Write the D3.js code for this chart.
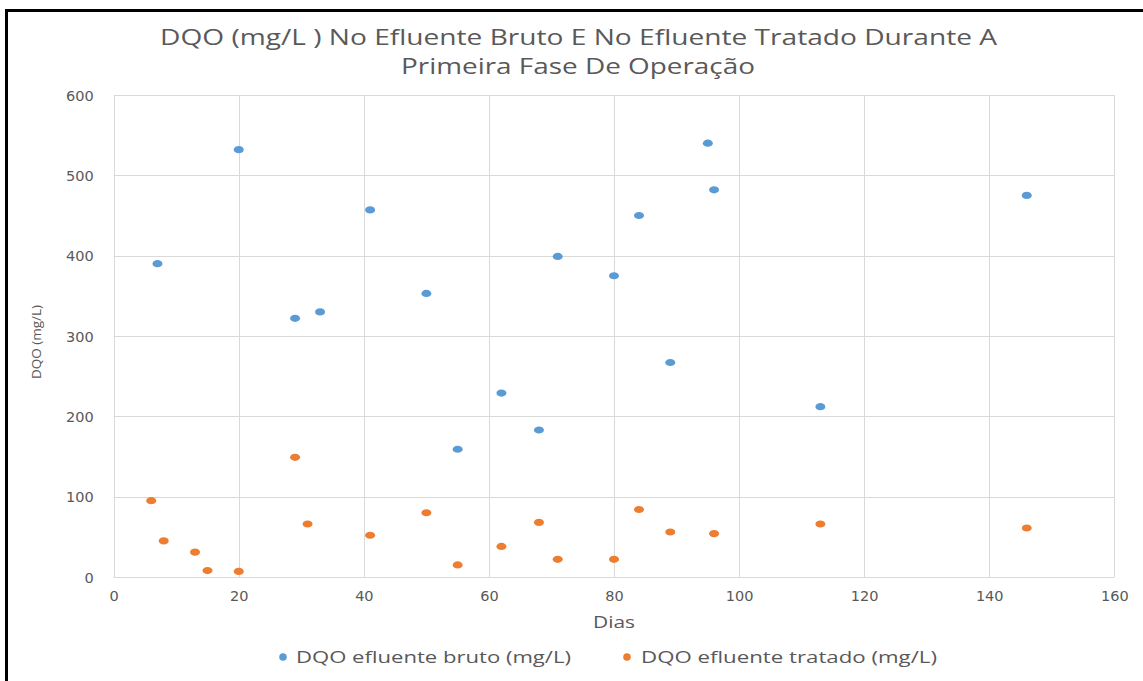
<!DOCTYPE html>
<html>
<head>
<meta charset="utf-8">
<script src="https://cdn.jsdelivr.net/npm/d3@7"></script>
<style>
  html, body { margin: 0; padding: 0; background: #fff; }
  svg { display: block; }
</style>
</head>
<body>
<svg id="chart" width="1143" height="681"></svg>
<script>
// Dias de operação e DQO medida (mg/L)
const diasBruto = [7, 20, 29, 33, 41, 50, 55, 62, 68, 71, 80, 84, 89, 95, 96, 113, 146];
const dqoBruto  = [390, 532, 322, 330, 457, 353, 159, 229, 183, 399, 375, 450, 267, 540, 482, 212, 475];

const diasTratado = [6, 8, 13, 15, 20, 29, 31, 41, 50, 55, 62, 68, 71, 80, 84, 89, 96, 113, 146];
const dqoTratado  = [95, 45, 31, 8, 7, 149, 66, 52, 80, 15, 38, 68, 22, 22, 84, 56, 54, 66, 61];

const xTicks = [0, 20, 40, 60, 80, 100, 120, 140, 160];
const yTicks = [0, 100, 200, 300, 400, 500, 600];

const titleLines = ["DQO (mg/L ) No Efluente Bruto E No Efluente Tratado Durante A", "Primeira Fase De Operação"];
const seriesNames = ["DQO efluente bruto (mg/L)", "DQO efluente tratado (mg/L)"];
const colors = ["#5b9bd5", "#ed7d31"];

const svg = d3.select("#chart");
const textColor = "#595959";
const font = "'Open Sans', 'Noto Sans', sans-serif";

// frame
svg.append("rect").attr("x", 5).attr("y", 9).attr("width", 1143).attr("height", 3).attr("fill", "#000");
svg.append("rect").attr("x", 5).attr("y", 9).attr("width", 3).attr("height", 681).attr("fill", "#000");

const x = d3.scaleLinear().domain([0, 160]).range([113.7, 1114.3]);
const y = d3.scaleLinear().domain([0, 600]).range([577, 95]);

// grid
const grid = svg.append("g");
grid.selectAll("line.h").data(yTicks).join("line")
  .attr("x1", x(0)).attr("x2", x(160))
  .attr("y1", d => Math.round(y(d)) + 0.5).attr("y2", d => Math.round(y(d)) + 0.5)
  .attr("stroke", "#d9d9d9").attr("stroke-width", 1);
grid.selectAll("line.v").data(xTicks).join("line")
  .attr("y1", y(0)).attr("y2", y(600))
  .attr("x1", d => Math.round(x(d)) + 0.5).attr("x2", d => Math.round(x(d)) + 0.5)
  .attr("stroke", "#d9d9d9").attr("stroke-width", 1);

// axes (labels only, lines come from the grid)
const xAxis = svg.append("g").attr("transform", `translate(0,${y(0)})`)
  .call(d3.axisBottom(x).tickValues(xTicks).tickSize(0).tickPadding(14));
const yAxis = svg.append("g").attr("transform", `translate(${x(0)},0)`)
  .call(d3.axisLeft(y).tickValues(yTicks).tickSize(0).tickPadding(20));
[xAxis, yAxis].forEach(a => {
  a.select(".domain").remove();
  a.selectAll("text").attr("fill", textColor).style("font-family", "'DejaVu Sans', sans-serif").style("font-size", "14.5px");
});
yAxis.selectAll("text").attr("dy", "0.35em");

// points
const dot = (g, xs, ys, c) => g.selectAll("ellipse").data(xs.map((d, i) => [d, ys[i]])).join("ellipse")
  .attr("cx", d => x(d[0])).attr("cy", d => y(d[1])).attr("rx", 5).attr("ry", 3.6).attr("fill", c);
dot(svg.append("g"), diasBruto, dqoBruto, colors[0]);
dot(svg.append("g"), diasTratado, dqoTratado, colors[1]);

// title
const title = svg.append("g").attr("fill", textColor).style("font-family", font).style("font-size", "22px");
title.append("text").attr("x", 578.5).attr("y", 45).attr("text-anchor", "middle")
  .attr("textLength", 837).attr("lengthAdjust", "spacingAndGlyphs").text(titleLines[0]);
title.append("text").attr("x", 578).attr("y", 74).attr("text-anchor", "middle")
  .attr("textLength", 354).attr("lengthAdjust", "spacingAndGlyphs").text(titleLines[1]);

// axis titles
svg.append("text").attr("x", 614).attr("y", 628).attr("text-anchor", "middle")
  .attr("fill", textColor).style("font-family", font).style("font-size", "16px")
  .attr("textLength", 42).attr("lengthAdjust", "spacingAndGlyphs").text("Dias");
svg.append("text").attr("transform", "translate(41,342) rotate(-90)").attr("text-anchor", "middle")
  .attr("fill", textColor).style("font-family", font).style("font-size", "13px")
  .attr("textLength", 74).attr("lengthAdjust", "spacingAndGlyphs").text("DQO (mg/L)");

// legend
const legendPos = [{dx: 283, tx: 296, w: 275}, {dx: 627, tx: 641, w: 296}];
const legend = svg.append("g");
legendPos.forEach((p, i) => {
  legend.append("circle").attr("cx", p.dx).attr("cy", 657).attr("r", 3.8).attr("fill", colors[i]);
  legend.append("text").attr("x", p.tx).attr("y", 663).attr("fill", textColor)
    .style("font-family", font).style("font-size", "16.5px")
    .attr("textLength", p.w).attr("lengthAdjust", "spacingAndGlyphs").text(seriesNames[i]);
});
</script>
</body>
</html>
